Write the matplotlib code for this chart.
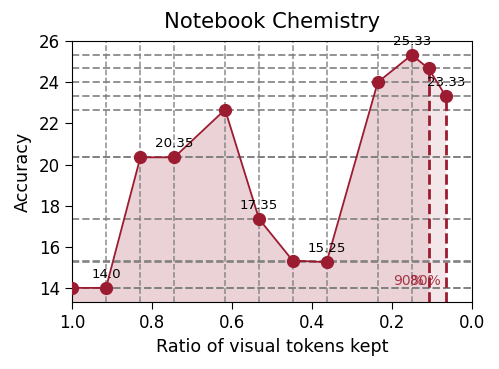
import matplotlib
matplotlib.use("Agg")
import matplotlib.pyplot as plt
import numpy as np

# data
ratios = [1.0, 0.915, 0.829, 0.744, 0.617, 0.532, 0.448, 0.363, 0.235, 0.15, 0.108, 0.065]
accuracy = [14.0, 14.0, 20.35, 20.35, 22.67, 17.35, 15.33, 15.25, 24.0, 25.33, 24.67, 23.33]
marked_ratios = [0.108, 0.065]
marked_labels = ["90%", "80%"]

RED = "#9b1b30"

x = np.array(ratios)
y = np.array(accuracy)

fig = plt.figure(figsize=(4.99, 3.69), dpi=100)
ax = fig.add_axes([0.1443, 0.1808, 0.8010, 0.7094])

# guide lines at each measured point
for xv in ratios:
    if xv in marked_ratios:
        continue
    ax.axvline(xv, color="gray", linestyle="--", linewidth=1.1, alpha=0.9, zorder=1)
for yv in accuracy:
    ax.axhline(yv, color="gray", linestyle="--", linewidth=1.4, alpha=0.85, zorder=1)

# shaded area: whole curve light, kept part darker
ax.fill_between(x, y, 13.3, color=RED, alpha=0.1, linewidth=0, zorder=0)
keep = x >= marked_ratios[0]
ax.fill_between(x[keep], y[keep], 13.3, color=RED, alpha=0.1, linewidth=0, zorder=0)

ax.plot(x, y, color=RED, linewidth=1.3, marker="o", markersize=8.5, zorder=3)

for xv, lab in zip(marked_ratios, marked_labels):
    yv = accuracy[ratios.index(xv)]
    ax.vlines(xv, 13.3, yv, color=RED, linestyle="--", linewidth=2.0, zorder=2)
    ax.text(xv + 0.012, min(accuracy), lab, color=RED, alpha=0.85,
            ha="right", va="bottom", fontsize=10, zorder=4)

for i in range(1, len(ratios), 2):
    ax.annotate(str(accuracy[i]), (ratios[i], accuracy[i]), xytext=(0, 5),
                textcoords="offset points", ha="center", va="bottom", fontsize=9.6)

ax.set_xlim(1.0, 0.0)
ax.set_ylim(min(accuracy) - 0.7, max(accuracy) + 0.7)
ax.set_xticks([1.0, 0.8, 0.6, 0.4, 0.2, 0.0])
ax.set_yticks([14, 16, 18, 20, 22, 24, 26])
ax.tick_params(labelsize=12, length=5)
ax.set_xlabel("Ratio of visual tokens kept", fontsize=12.6, labelpad=4)
ax.set_ylabel("Accuracy", fontsize=12.6, labelpad=5)
ax.set_title("Notebook Chemistry", fontsize=15.2, pad=9)

fig.savefig("out.png", dpi=100)
